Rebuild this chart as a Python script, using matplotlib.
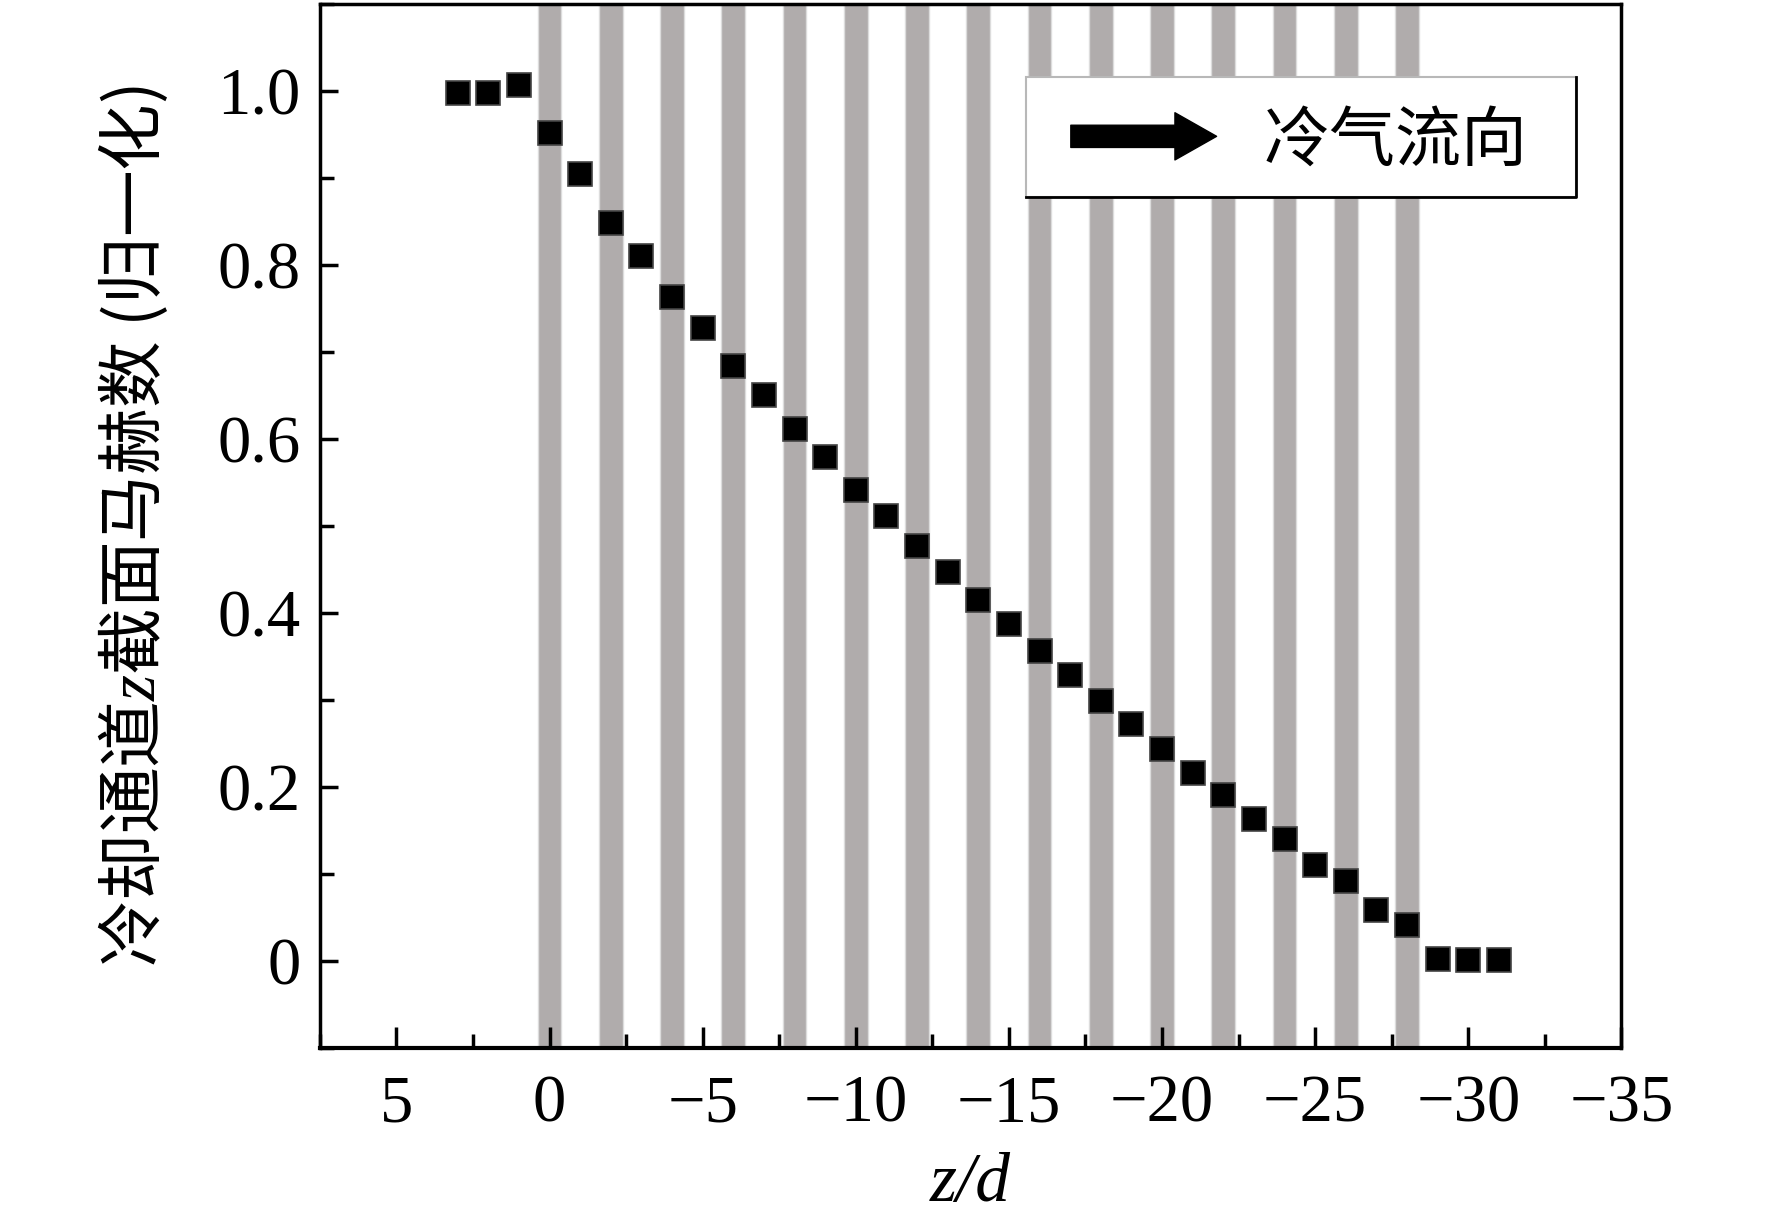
import matplotlib
matplotlib.use('Agg')
import matplotlib.pyplot as plt
from matplotlib.patches import Rectangle, FancyArrowPatch
from matplotlib.ticker import MultipleLocator

plt.rcParams['font.family'] = ['Liberation Serif', 'Noto Sans CJK SC', 'DejaVu Sans']
plt.rcParams['mathtext.fontset'] = 'custom'
plt.rcParams['mathtext.it'] = 'Liberation Serif:italic'
plt.rcParams['mathtext.rm'] = 'Liberation Serif'

# data
z_d = [3, 2, 1, 0, -1, -2, -3, -4, -5, -6, -7, -8, -9, -10, -11, -12, -13,
       -14, -15, -16, -17, -18, -19, -20, -21, -22, -23, -24, -25, -26, -27,
       -28, -29, -30, -31]
mach = [0.997, 0.997, 1.006, 0.951, 0.904, 0.848, 0.810, 0.763, 0.728, 0.684,
        0.651, 0.611, 0.579, 0.541, 0.512, 0.477, 0.447, 0.415, 0.388, 0.356,
        0.329, 0.299, 0.272, 0.244, 0.216, 0.191, 0.164, 0.140, 0.111, 0.092,
        0.059, 0.042, 0.003, 0.002, 0.002]
stripe_pos = [0, -2, -4, -6, -8, -10, -12, -14, -16, -18, -20, -22, -24, -26, -28]
stripe_width = 0.78

x_ticks = [5, 0, -5, -10, -15, -20, -25, -30, -35]
x_labels = ['5', '0', '\u22125', '\u221210', '\u221215', '\u221220',
            '\u221225', '\u221230', '\u221235']
y_ticks = [0, 0.2, 0.4, 0.6, 0.8, 1.0]
y_labels = ['0', '0.2', '0.4', '0.6', '0.8', '1.0']

fig = plt.figure(figsize=(17.72, 12.19), dpi=100)
ax = fig.add_axes([0.1805, 0.140, 0.7345, 0.857])

for p in stripe_pos:
    ax.axvspan(p - stripe_width / 2, p + stripe_width / 2, color='#b0acac',
               ec='#dcdcdc', lw=1, zorder=1)

ax.plot(z_d, mach, ls='none', marker='s', ms=17.5, mfc='black', mec='#444444',
        mew=1.2, zorder=3)

ax.set_xlim(7.5, -35)
ax.set_ylim(-0.1, 1.1)
ax.set_xticks(x_ticks)
ax.set_xticklabels(x_labels)
ax.set_yticks(y_ticks)
ax.set_yticklabels(y_labels)
ax.xaxis.set_minor_locator(MultipleLocator(2.5))
ax.yaxis.set_minor_locator(MultipleLocator(0.1))
ax.tick_params(which='both', direction='in', top=False, right=False,
               labelsize=48, width=2.5)
ax.tick_params(axis='x', which='major', length=15, pad=19)
ax.tick_params(axis='x', which='minor', length=10)
ax.tick_params(axis='y', which='major', length=13, pad=14)
ax.tick_params(axis='y', which='minor', length=10)
for s in ax.spines.values():
    s.set_linewidth(2.5)
ax.spines['bottom'].set_linewidth(3)

ax.set_xlabel('z/d', fontsize=50, fontstyle='italic', labelpad=12)
ax.set_ylabel('冷却通道$z$截面马赫数 (归一化)', fontsize=48,
              fontfamily='Noto Sans CJK SC', labelpad=34)

# flow direction box
box = Rectangle((0.5425, 0.815), 0.4225, 0.1146, transform=ax.transAxes,
                facecolor='white', edgecolor='#b8b8b8', lw=1.5, zorder=5)
ax.add_patch(box)
ax.plot([0.5425, 0.965, 0.965], [0.815, 0.815, 0.9296], transform=ax.transAxes,
        color='black', lw=2, zorder=6, clip_on=False)
arrow = FancyArrowPatch((0.577, 0.873), (0.689, 0.873), transform=ax.transAxes,
                        arrowstyle='simple,head_length=30,head_width=34,tail_width=16',
                        mutation_scale=1, color='black', shrinkA=0, shrinkB=0,
                        zorder=7)
ax.add_patch(arrow)
ax.text(0.725, 0.868, '冷气流向', transform=ax.transAxes, fontsize=47.5,
        fontfamily='Noto Sans CJK SC', ha='left', va='center', zorder=7)

fig.savefig('out.png', dpi=100)
